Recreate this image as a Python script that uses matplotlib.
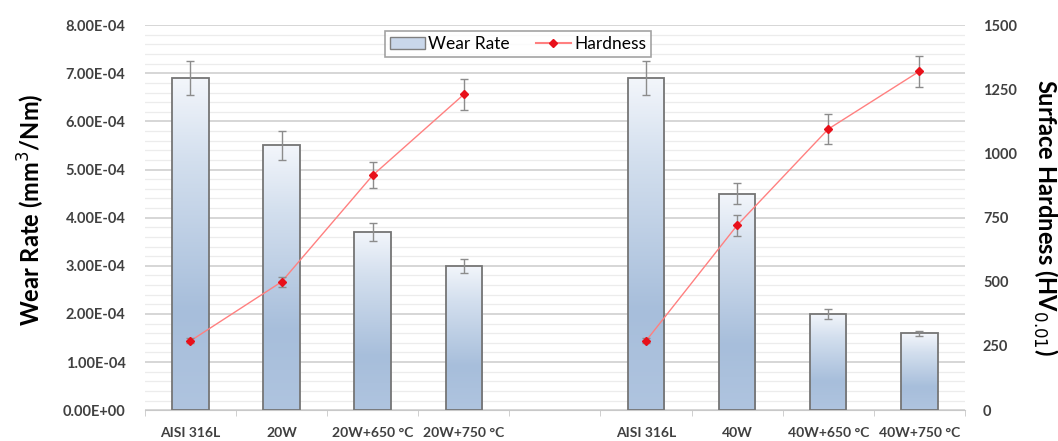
import numpy as np
import matplotlib
matplotlib.use("Agg")
import matplotlib.pyplot as plt
from matplotlib.ticker import MultipleLocator, FuncFormatter
from matplotlib.patches import Patch
from matplotlib.lines import Line2D

plt.rcParams['font.family'] = ['Lato', 'DejaVu Sans']

categories = ["AISI 316L", "20W", "20W+650 °C", "20W+750 °C", "",
              "AISI 316L", "40W", "40W+650 °C", "40W+750 °C"]
wear_rate = [6.9e-4, 5.5e-4, 3.7e-4, 3.0e-4, np.nan,
             6.9e-4, 4.5e-4, 2.0e-4, 1.6e-4]
wear_err = [0.35e-4, 0.3e-4, 0.18e-4, 0.15e-4, np.nan,
            0.36e-4, 0.22e-4, 0.1e-4, 0.05e-4]
hardness = [270, 500, 915, 1230, np.nan, 270, 720, 1095, 1320]
hardness_err = [10, 20, 50, 60, np.nan, 10, 40, 60, 60]

fig = plt.figure(figsize=(10.58, 4.41), dpi=100)
ax = fig.add_axes([0.137, 0.07, 0.775, 0.873])
ax2 = ax.twinx()

x = np.arange(len(categories))
mask = ~np.isnan(wear_rate)
xb = x[mask]
wb = np.array(wear_rate)[mask]
eb = np.array(wear_err)[mask]

bars = ax.bar(xb, wb, width=0.4, facecolor='none', edgecolor='#757575',
              linewidth=1.3, zorder=3)

# vertical blue gradient inside each bar
grad = np.linspace(0, 1, 256).reshape(-1, 1)
cmap = matplotlib.colors.LinearSegmentedColormap.from_list(
    "barfill", [(0.0, "#afc4df"), (0.3, "#a7bedb"), (0.75, "#d3dfee"), (1.0, "#f3f6fb")])
for b in bars:
    bx, by = b.get_x(), b.get_y()
    bw, bh = b.get_width(), b.get_height()
    ax.imshow(grad, extent=(bx, bx + bw, by, by + bh), origin='lower',
              cmap=cmap, aspect='auto', zorder=2, interpolation='bicubic')

ax.errorbar(xb, wb, yerr=eb, fmt='none', ecolor='#8c8c8c', elinewidth=1,
            capsize=3, capthick=1, zorder=4)

ax.set_xlim(-0.5, len(categories) - 0.5)
ax.set_ylim(0, 8e-4)
ax.yaxis.set_major_locator(MultipleLocator(1e-4))
ax.yaxis.set_minor_locator(MultipleLocator(0.2e-4))
ax.yaxis.set_major_formatter(FuncFormatter(lambda v, p: f"{v:.2E}"))
ax.grid(axis='y', which='major', color='#d0d0d0', linewidth=1.2, zorder=0)
ax.grid(axis='y', which='minor', color='#ececec', linewidth=0.9, zorder=0)
ax.set_axisbelow(True)
ax.tick_params(axis='y', which='both', length=0, pad=14, labelsize=10.5)
for t in ax.get_yticklabels():
    t.set_fontweight('bold')
    t.set_color('#404040')

ax.set_xticks(x)
ax.set_xticklabels(categories, fontsize=10, fontweight='bold', color='#404040')
ax.set_xticks(np.arange(-0.5, len(categories), 1), minor=True)
ax.tick_params(axis='x', which='major', length=0, pad=12)
ax.tick_params(axis='x', which='minor', length=4, color='#c8c8c8', direction='out')

for s in ['left', 'right', 'top']:
    ax.spines[s].set_visible(False)
    ax2.spines[s].set_visible(False)
ax.spines['bottom'].set_color('#c8c8c8')
ax2.spines['bottom'].set_visible(False)

ax.set_ylabel("Wear Rate (mm$^3$/Nm)", fontsize=17, fontweight='bold', va='center')
ax.yaxis.set_label_coords(-0.138, 0.52)

ax2.plot(x, hardness, color='#ff8080', linewidth=1, zorder=5)
ax2.errorbar(x, hardness, yerr=hardness_err, fmt='none', ecolor='#8c8c8c',
             elinewidth=1, capsize=3, capthick=1, zorder=5)
ax2.plot(x, hardness, linestyle='none', marker='D', markersize=4.5,
         color='#e8101a', zorder=6)
ax2.set_ylim(0, 1500)
ax2.yaxis.set_major_locator(MultipleLocator(250))
ax2.tick_params(axis='y', length=0, pad=13, labelsize=10.5)
for t in ax2.get_yticklabels():
    t.set_fontweight('bold')
    t.set_color('#404040')
ax2.set_ylabel("Surface Hardness (HV$_{0.01}$)", fontsize=17, fontweight='bold',
               rotation=270, va='center')
ax2.yaxis.set_label_coords(1.098, 0.5)

handles = [Patch(facecolor='#c9d7ea', edgecolor='#7f7f7f', label='Wear Rate'),
           Line2D([0], [0], color='#ff8080', marker='D', markersize=4.5,
                  markerfacecolor='#e8101a', markeredgecolor='#e8101a', label='Hardness')]
leg = ax.legend(handles=handles, loc='upper center', bbox_to_anchor=(0.455, 1.008),
                ncol=2, frameon=True, fancybox=False, fontsize=12.5,
                handlelength=2.0, handletextpad=0.2, columnspacing=1.5,
                borderpad=0.3, edgecolor='#8c8c8c')
leg.get_frame().set_linewidth(1.2)
leg.set_zorder(10)

fig.savefig("out.png", dpi=100)
